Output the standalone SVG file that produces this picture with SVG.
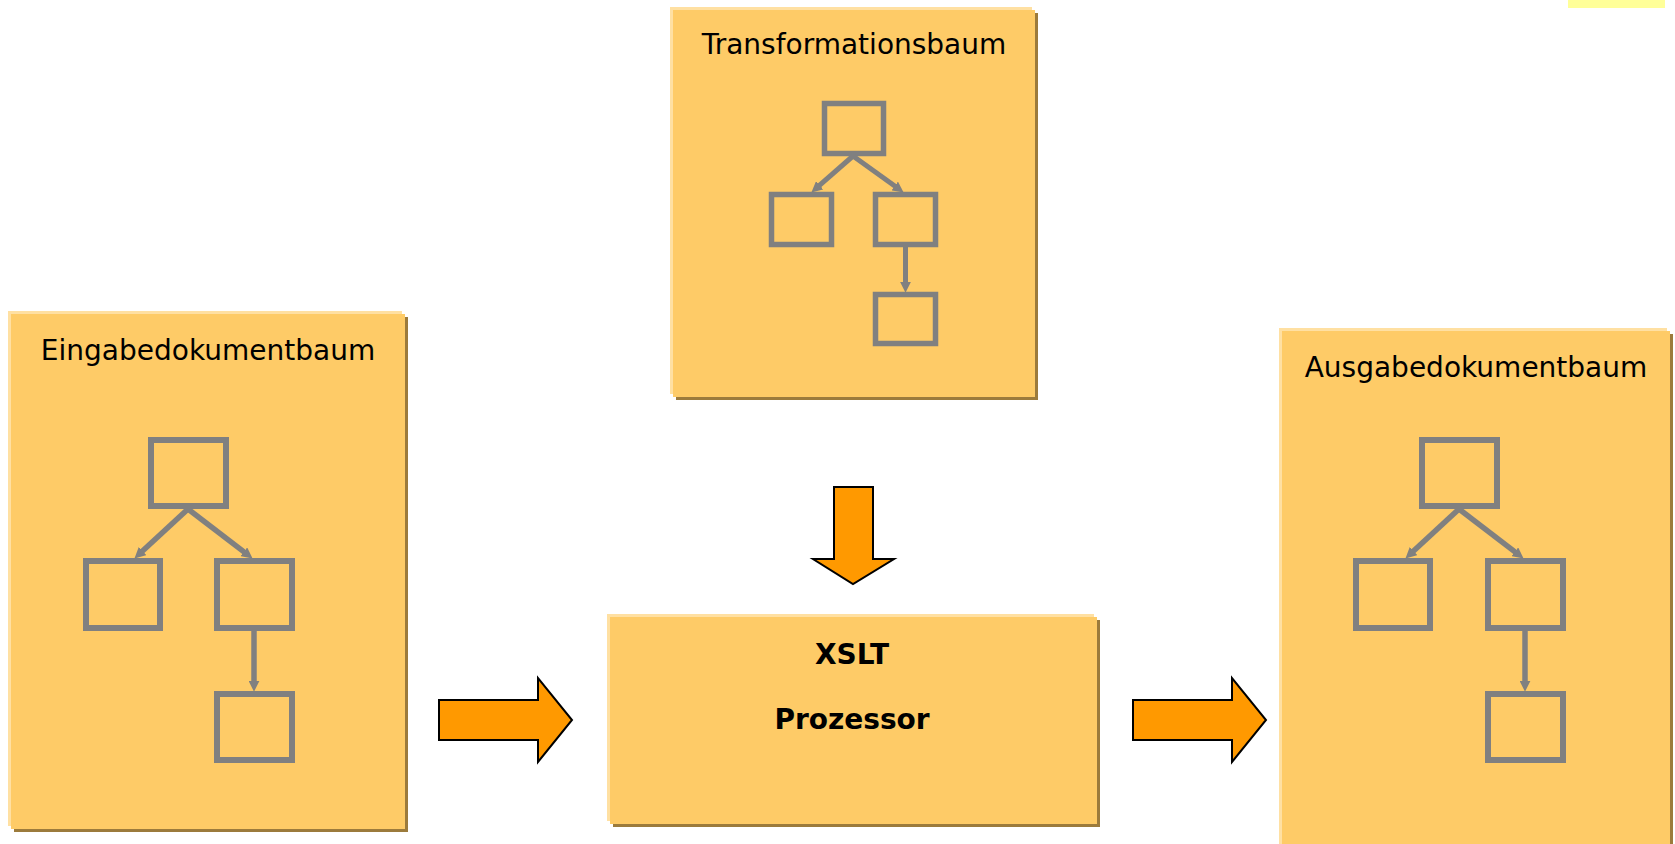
<svg xmlns="http://www.w3.org/2000/svg" width="1675" height="844" viewBox="0 0 1675 844">
<style>
.sh{fill:#9C7B3C}
.hl{fill:#FFE0A2}
.bx{fill:#FECB67}
.t{font-family:"DejaVu Sans","Liberation Sans",sans-serif;font-size:28px;fill:#000;text-anchor:middle}
.b{font-weight:bold}
.n6{fill:none;stroke:#808080;stroke-width:6}
.n5{fill:none;stroke:#808080;stroke-width:5.5}
.e6{fill:none;stroke:#808080;stroke-width:5.5;marker-end:url(#ah)}
.e5{fill:none;stroke:#808080;stroke-width:5;marker-end:url(#ah)}
.big{fill:#FF9900;stroke:#000;stroke-width:2;stroke-linejoin:miter}
</style>
<defs>
<marker id="ah" viewBox="0 0 10 10" refX="2" refY="5" markerWidth="11" markerHeight="11" markerUnits="userSpaceOnUse" orient="auto">
<path d="M0,0 L10,5 L0,10 z" fill="#808080"/>
</marker>
</defs>
<rect x="1568" y="0" width="97" height="8" fill="#FFFF99"/>

<g id="transformationsbaum">
<rect class="sh" x="676" y="13" width="362" height="387"/>
<rect class="hl" x="670" y="7" width="362" height="387"/>
<rect class="bx" x="673" y="10" width="362" height="387"/>
<text class="t" x="854" y="54">Transformationsbaum</text>
<rect class="n5" x="824.5" y="103.5" width="59" height="50"/>
<rect class="n5" x="771.5" y="194.5" width="60" height="50"/>
<rect class="n5" x="875.5" y="194.5" width="60" height="50"/>
<rect class="n5" x="875.5" y="294.5" width="60" height="49"/>
</g>

<g id="eingabedokumentbaum">
<rect class="sh" x="14" y="317" width="394" height="515"/>
<rect class="hl" x="8" y="311" width="394" height="515"/>
<rect class="bx" x="11" y="314" width="394" height="515"/>
<text class="t" x="208" y="360">Eingabedokumentbaum</text>
<rect class="n6" x="151" y="440" width="75" height="66"/>
<rect class="n6" x="86" y="561" width="74" height="67"/>
<rect class="n6" x="217" y="561" width="75" height="67"/>
<rect class="n6" x="217" y="694" width="75" height="66"/>
</g>

<g id="ausgabedokumentbaum">
<rect class="sh" x="1285" y="334" width="388" height="520"/>
<rect class="hl" x="1279" y="328" width="388" height="520"/>
<rect class="bx" x="1282" y="331" width="388" height="520"/>
<text class="t" x="1476" y="377">Ausgabedokumentbaum</text>
<rect class="n6" x="1422" y="440" width="75" height="66"/>
<rect class="n6" x="1356" y="561" width="74" height="67"/>
<rect class="n6" x="1488" y="561" width="75" height="67"/>
<rect class="n6" x="1488" y="694" width="75" height="66"/>
</g>

<g id="xslt-prozessor">
<rect class="sh" x="613" y="620" width="487" height="207"/>
<rect class="hl" x="607" y="614" width="487" height="207"/>
<rect class="bx" x="610" y="617" width="487" height="207"/>
<text class="t b" x="852" y="664">XSLT</text>
<text class="t b" x="852" y="729">Prozessor</text>
</g>

<g id="connectors">
<path class="e5" d="M853,156 L818,186.7"/>
<path class="e5" d="M853,156 L896.5,187.3"/>
<path class="e5" d="M905.5,247 L905.5,284"/>
<path class="e6" d="M188,509 L140.9,552.6"/>
<path class="e6" d="M188,509 L245.6,553.1"/>
<path class="e6" d="M254,631 L254,683"/>
<path class="e6" d="M1459,509 L1411.9,552.6"/>
<path class="e6" d="M1459,509 L1516.6,553.1"/>
<path class="e6" d="M1525,631 L1525,683"/>
<path class="big" d="M834,487 L873,487 L873,559 L894,559 L853,584 L813,559 L834,559 Z"/>
<path class="big" d="M439,700 L538,700 L538,678 L572,720 L538,762 L538,740 L439,740 Z"/>
<path class="big" d="M1133,700 L1232,700 L1232,678 L1266,720 L1232,762 L1232,740 L1133,740 Z"/>
</g>
</svg>
